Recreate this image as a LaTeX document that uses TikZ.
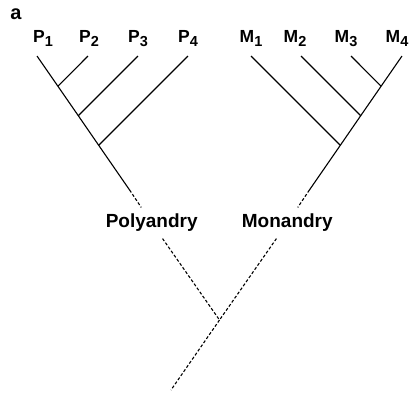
\documentclass[tikz,border=0pt]{standalone}
\usepackage{fontspec}
\setmainfont{Liberation Sans}
\tikzstyle{branch} = [line width=1.1pt]
\tikzstyle{hidden} = [line width=1.1pt, dash pattern=on 3pt off 2pt]
\newcommand{\taxon}[2]{\fontsize{17.5}{17.5}\selectfont #1\raisebox{-4pt}{\fontsize{14.5}{14.5}\selectfont #2}}

\begin{document}
\begin{tikzpicture}
        [
            x=1pt, y=-1pt,
            taxon/.style={inner sep=0pt, anchor=base, font=\bfseries},
            mating/.style={inner sep=6.5pt, font=\bfseries\fontsize{19}{19}\selectfont},
        ]
    \useasboundingbox (0,0) rectangle (414,392);
    \node[anchor=base, inner sep=0pt, font=\bfseries\fontsize{20}{20}\selectfont] (panel) at (16,19) {a};

    \foreach \i/\x/\lx in {1/37/43,2/88/89,3/138/138,4/188/188}{
        \coordinate (tP\i) at (\x,56);
        \node[taxon] (P\i) at (\lx,42) {\taxon{P}{\i}};
    }
    \foreach \i/\x/\lx in {1/251/251,2/301/295,3/351/346,4/402/397}{
        \coordinate (tM\i) at (\x,56);
        \node[taxon] (M\i) at (\lx,42) {\taxon{M}{\i}};
    }

    \coordinate (bP2) at (57.9,86.2);
    \coordinate (bP3) at (78.3,115.7);
    \coordinate (bP4) at (98.7,145.3);
    \coordinate (bM3) at (381.1,86.2);
    \coordinate (bM2) at (360.7,115.7);
    \coordinate (bM1) at (340.3,145.3);
    \coordinate (sP) at (129.6,190);
    \coordinate (sM) at (309.4,190);
    \coordinate (root) at (219.5,320);
    \coordinate (stem) at (171,390);

    \node[mating] (poly) at (151.7,223) {Polyandry};
    \node[mating] (mono) at (287.3,223) {Monandry};

    \draw[branch] (tP1) -- (bP2) -- (bP3) -- (bP4) -- (sP);
    \draw[branch] (tM4) -- (bM3) -- (bM2) -- (bM1) -- (sM);
    \foreach \i in {2,3,4}
        \draw[branch] (tP\i) -- (bP\i);
    \foreach \i in {1,2,3}
        \draw[branch] (tM\i) -- (bM\i);

    \draw[hidden] (sP) -- (poly) -- (root);
    \draw[hidden] (sM) -- (mono) -- (root);
    \draw[hidden] (root) -- (stem);
\end{tikzpicture}
\end{document}
